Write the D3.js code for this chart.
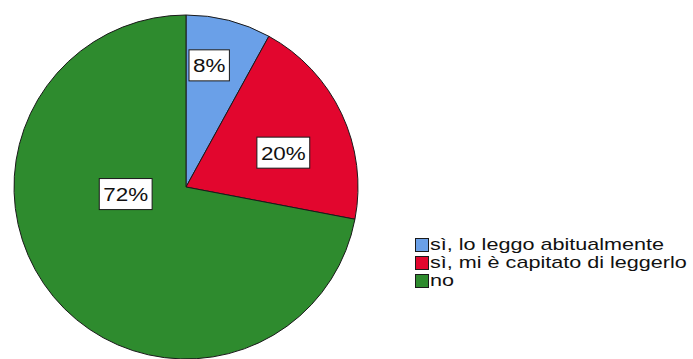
<!DOCTYPE html>
<html>
<head>
<meta charset="utf-8">
<script src="https://cdn.jsdelivr.net/npm/d3@7"></script>
<style>
  html, body { margin: 0; padding: 0; background: #fff; }
  svg { display: block; font-family: "Liberation Sans", Arial, sans-serif; }
</style>
</head>
<body>
<svg id="chart" width="693" height="359"></svg>
<script>
// Answers to "Do you read it?" — share of respondents
const categories = ["sì, lo leggo abitualmente", "sì, mi è capitato di leggerlo", "no"];
const values = [8, 20, 72];
const valueLabels = ["8%", "20%", "72%"];
const colors = ["#6aa0e8", "#e2062e", "#2e8b2e"];

// Where each percentage box sits inside its slice:
// fraction of the slice's angular span, and fraction of the radius
const labelAngleFrac = [0.375, 0.58, 0.627];
const labelRadiusFrac = [0.72, 0.6, 0.353];

// Text is drawn slightly wide, like the original export
const labelStretch = 1.18;
const legendStretch = 1.35;

const svg = d3.select("#chart");
const cx = 186, cy = 187, radius = 172;

const pie = d3.pie().sort(null).value(d => d);
const arcs = pie(values);
const arc = d3.arc().innerRadius(0).outerRadius(radius);

const g = svg.append("g").attr("transform", `translate(${cx},${cy})`);

g.selectAll("path.slice")
  .data(arcs)
  .join("path")
  .attr("class", "slice")
  .attr("d", arc)
  .attr("fill", (d, i) => colors[i])
  .attr("stroke", "#1a1a1a")
  .attr("stroke-width", 1);

// Percentage labels in white boxes
const labels = g.selectAll("g.lbl")
  .data(arcs)
  .join("g")
  .attr("class", "lbl")
  .attr("transform", (d, i) => {
    const a = d.startAngle + (d.endAngle - d.startAngle) * labelAngleFrac[i];
    const r = radius * labelRadiusFrac[i];
    return `translate(${r * Math.sin(a)},${-r * Math.cos(a)})`;
  });

labels.append("text")
  .attr("text-anchor", "middle")
  .attr("dominant-baseline", "central")
  .attr("font-size", 19)
  .attr("fill", "#111")
  .attr("transform", `scale(${labelStretch},1)`)
  .text((d, i) => valueLabels[i]);

labels.each(function () {
  const grp = d3.select(this);
  const bb = grp.select("text").node().getBBox();
  const w = bb.width * labelStretch;
  grp.insert("rect", "text")
    .attr("x", -w / 2 - 4)
    .attr("y", bb.y - 5)
    .attr("width", w + 8)
    .attr("height", bb.height + 10)
    .attr("fill", "#fff")
    .attr("stroke", "#1a1a1a")
    .attr("stroke-width", 1);
});

// Legend
const legend = svg.append("g").attr("transform", "translate(415,238)");
const rowH = 18;
const rows = legend.selectAll("g.row")
  .data(categories)
  .join("g")
  .attr("class", "row")
  .attr("transform", (d, i) => `translate(0,${i * rowH})`);

rows.append("rect")
  .attr("x", 0.5).attr("y", 0.5)
  .attr("width", 13).attr("height", 13)
  .attr("fill", (d, i) => colors[i])
  .attr("stroke", "#1a1a1a")
  .attr("stroke-width", 1);

rows.append("text")
  .attr("transform", `translate(15,7) scale(${legendStretch},1)`)
  .attr("dominant-baseline", "central")
  .attr("font-size", 16)
  .attr("fill", "#111")
  .text(d => d);
</script>
</body>
</html>
